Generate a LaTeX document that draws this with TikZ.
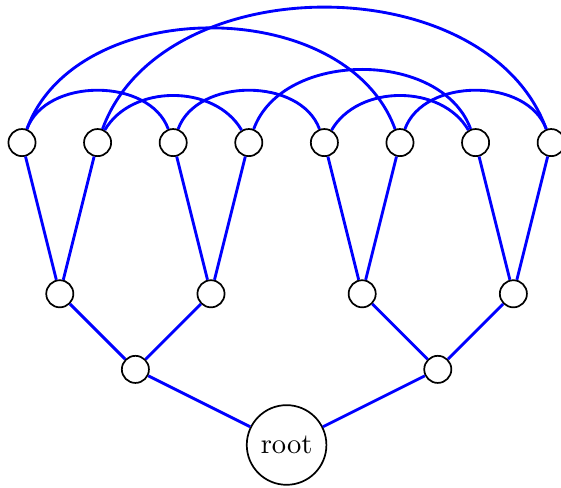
\documentclass[tikz,border=0pt]{standalone}
\usepackage{tikz}
\begin{document}
\begin{tikzpicture}[x=26.5pt,y=26.5pt,
  vtx/.style={circle,draw,semithick,minimum size=9.5pt,inner sep=0pt},
  link/.style={blue,line width=1pt}]
\useasboundingbox (-0.291,-0.556) rectangle (7.130,5.886);
\node[circle,draw,semithick] (root) at (3.5,0) {root};
\node[vtx] (a) at (1.5,1) {};
\node[vtx] (b) at (5.5,1) {};
\node[vtx] (a1) at (0.5,2) {};
\node[vtx] (a2) at (2.5,2) {};
\node[vtx] (b1) at (4.5,2) {};
\node[vtx] (b2) at (6.5,2) {};
\foreach \i in {0,...,7}
  \node[vtx] (l\i) at (\i,4) {};
% tree
\draw[link] (root) -- (a) (root) -- (b);
\draw[link] (a) -- (a1) (a) -- (a2) (b) -- (b1) (b) -- (b2);
\draw[link] (a1) -- (l0) (a1) -- (l1) (a2) -- (l2) (a2) -- (l3);
\draw[link] (b1) -- (l4) (b1) -- (l5) (b2) -- (l6) (b2) -- (l7);
% arcs over the leaves
\draw[link] (l0) to[bend left=70] (l2);
\draw[link] (l1) to[bend left=60] (l3);
\draw[link] (l2) to[bend left=70] (l4);
\draw[link] (l4) to[bend left=60] (l6);
\draw[link] (l5) to[bend left=70] (l7);
\draw[link] (l3) to[bend left=70] (l6);
\draw[link] (l0) to[bend left=70] (l5);
\draw[link] (l1) to[bend left=70] (l7);
\end{tikzpicture}
\end{document}
